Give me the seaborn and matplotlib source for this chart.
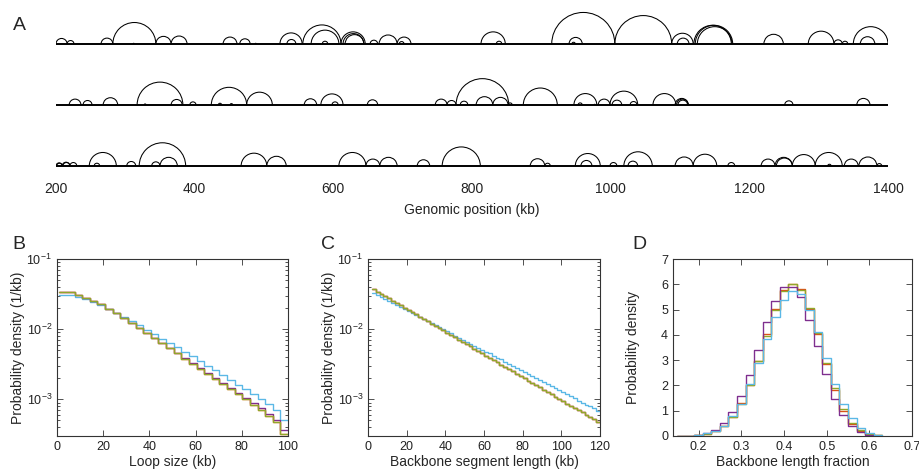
import numpy as np
import pandas as pd
import matplotlib
matplotlib.use('Agg')
import matplotlib.pyplot as plt
from matplotlib.patches import Arc
import seaborn as sns

# === Data === #

# Panel A: loop arcs (start kb, end kb) for three example chromosomes
genome_range = (200, 1400)
track1_loops = [
    (200, 216), (216, 226), (265, 282), (282, 344), (311, 313), (344, 366),
    (366, 389), (441, 461), (465, 480), (487, 489), (523, 555), (533, 546),
    (556, 611), (568, 608), (584, 592), (611, 646), (614, 644), (617, 644),
    (653, 664), (666, 692), (692, 712), (695, 702), (813, 848), (835, 843),
    (915, 1006), (940, 959), (944, 949), (1006, 1088), (1088, 1119), (1096, 1113),
    (1120, 1174), (1122, 1176), (1125, 1175), (1221, 1249), (1285, 1322),
    (1322, 1334), (1334, 1342), (1350, 1400), (1360, 1381),
]
track2_loops = [
    (219, 236), (239, 252), (268, 289), (317, 383), (327, 330), (366, 382),
    (393, 402), (424, 475), (434, 439), (451, 455), (475, 512), (558, 576),
    (582, 614), (598, 607), (649, 664), (747, 764), (764, 777), (777, 853),
    (783, 794), (806, 830), (830, 852), (852, 858), (874, 923), (947, 980),
    (953, 959), (976, 978), (982, 999), (999, 1039), (1002, 1016), (1028, 1038),
    (1061, 1094), (1093, 1112), (1095, 1112), (1097, 1111), (1251, 1263),
    (1355, 1374),
]
track3_loops = [
    (200, 209), (201, 209), (209, 220), (210, 220), (220, 230), (248, 287),
    (255, 263), (302, 315), (320, 387), (338, 350), (350, 375), (467, 504),
    (504, 532), (608, 647), (647, 667), (667, 692), (721, 739), (757, 812),
    (884, 905), (905, 913), (949, 985), (957, 973), (999, 1009), (1019, 1060),
    (1025, 1039), (1093, 1119), (1119, 1153), (1169, 1179), (1217, 1237),
    (1237, 1262), (1239, 1262), (1262, 1295), (1295, 1334), (1313, 1318),
    (1337, 1357), (1358, 1384), (1384, 1391),
]

# Panel B: loop size histograms (1/kb), 30 bins of 3.3 kb from 1 kb
b_edges = np.arange(1, 100.1, 3.3)
b_main = [0.034, 0.034, 0.031, 0.028, 0.025, 0.0225, 0.0195, 0.0168, 0.0145, 0.0124,
          0.0105, 0.0089, 0.0076, 0.0064, 0.0054, 0.0046, 0.0038, 0.0032, 0.0027, 0.0023,
          0.00195, 0.00165, 0.0014, 0.00118, 0.0010, 0.00084, 0.0007, 0.00058, 0.00047, 0.00032]
b_purple = [0.034, 0.034, 0.031, 0.028, 0.025, 0.0225, 0.0195, 0.0168, 0.0145, 0.0124,
            0.0105, 0.0089, 0.0076, 0.0064, 0.0054, 0.0046, 0.0039, 0.0033, 0.0028, 0.0024,
            0.0020, 0.0017, 0.00145, 0.00123, 0.00105, 0.00089, 0.00075, 0.00062, 0.0005, 0.00037]
b_blue = [0.031, 0.031, 0.029, 0.027, 0.0245, 0.022, 0.0195, 0.017, 0.015, 0.013,
          0.0113, 0.0098, 0.0085, 0.0073, 0.0063, 0.0055, 0.0047, 0.0041, 0.0035, 0.003,
          0.0026, 0.0022, 0.0019, 0.0016, 0.0014, 0.0012, 0.001, 0.00085, 0.0007, 0.0005]

# Panel C: backbone segment length histograms (1/kb), 2 kb bins from 2 kb
c_edges = np.arange(2, 120.1, 2)
c_main = [0.0370, 0.0343, 0.0318, 0.0295, 0.0274, 0.0254, 0.0236, 0.0219, 0.0203, 0.0188,
          0.0175, 0.0162, 0.0150, 0.0139, 0.0129, 0.0120, 0.0111, 0.0103, 0.0096, 0.0089,
          0.0083, 0.0077, 0.0071, 0.0066, 0.0061, 0.0057, 0.0053, 0.0049, 0.0045, 0.0042,
          0.0039, 0.0036, 0.0034, 0.0031, 0.0029, 0.0027, 0.0025, 0.0023, 0.00215, 0.0020,
          0.00185, 0.00172, 0.00159, 0.00148, 0.00137, 0.00127, 0.00118, 0.00109, 0.00101,
          0.00094, 0.00087, 0.00081, 0.00075, 0.00070, 0.00065, 0.00060, 0.00056, 0.00052, 0.00048]
c_blue = [0.0330, 0.0309, 0.0289, 0.0270, 0.0253, 0.0236, 0.0221, 0.0207, 0.0193, 0.0181,
          0.0169, 0.0158, 0.0148, 0.0138, 0.0129, 0.0121, 0.0113, 0.0106, 0.0099, 0.0093,
          0.0087, 0.0081, 0.0076, 0.0071, 0.0066, 0.0062, 0.0058, 0.0054, 0.0051, 0.0048,
          0.0045, 0.0042, 0.0039, 0.0037, 0.0034, 0.0032, 0.0030, 0.0028, 0.0026, 0.00245,
          0.0023, 0.00215, 0.0020, 0.00188, 0.00176, 0.00164, 0.00154, 0.00144, 0.00135,
          0.00126, 0.00118, 0.00110, 0.00103, 0.00096, 0.00090, 0.00084, 0.00079, 0.00074, 0.00069]

# Panel D: backbone length fraction histograms, 0.02 bins from 0.15
d_edges = np.arange(0.15, 0.6301, 0.02)
d_green = [0, 0.01, 0.03, 0.08, 0.18, 0.38, 0.75, 1.25, 2.0, 2.95, 3.95, 5.0,
           5.75, 6.0, 5.78, 5.05, 4.08, 2.9, 1.9, 1.05, 0.5, 0.22, 0.08, 0.02]
d_red = [0, 0.01, 0.03, 0.08, 0.19, 0.4, 0.76, 1.3, 2.02, 2.95, 4.02, 5.02,
         5.78, 6.02, 5.8, 5.02, 4.05, 2.85, 1.8, 1.0, 0.48, 0.2, 0.07, 0.02]
d_purple = [0, 0.01, 0.04, 0.12, 0.25, 0.5, 0.95, 1.58, 2.42, 3.42, 4.5, 5.35,
            5.88, 5.88, 5.48, 4.58, 3.55, 2.45, 1.48, 0.82, 0.4, 0.15, 0.05, 0.01]
d_blue = [0, 0.01, 0.05, 0.1, 0.2, 0.4, 0.78, 1.28, 2.05, 2.9, 3.85, 4.72,
          5.38, 5.72, 5.6, 5.0, 4.12, 3.08, 2.05, 1.28, 0.7, 0.3, 0.12, 0.03]

# Line colours (MATLAB-like palette, dark and light shades)
purple, purple_light = '#7E2F8E', '#CC8FD6'
red, orange_light = '#D95319', '#F2B07A'
yellow, green = '#E8C452', '#8FA82C'
blue, blue_light = '#5BB8E6', '#A9DDF4'

# === Figure === #
sns.set_style('ticks')
plt.rcParams['font.family'] = ['Liberation Sans', 'DejaVu Sans']
plt.rcParams['mathtext.fontset'] = 'custom'
plt.rcParams['mathtext.rm'] = 'Liberation Sans'

W, H = 920, 474
fig = plt.figure(figsize=(W / 100, H / 100), dpi=100)


def px_axes(left, top, right, bottom):
    return fig.add_axes([left / W, 1 - bottom / H, (right - left) / W, (bottom - top) / H])


# Panel A: arc diagrams (x and y both in kb so arcs stay circular)
ax_a = px_axes(56, 0, 888, 172)
kb_per_px = (genome_range[1] - genome_range[0]) / 832
ax_a.set_xlim(*genome_range)
ax_a.set_ylim(0, 172 * kb_per_px)
baselines = [(172 - 44) * kb_per_px, (172 - 105) * kb_per_px, (172 - 166) * kb_per_px]
for base, loops in zip(baselines, [track1_loops, track2_loops, track3_loops]):
    ax_a.plot(genome_range, [base, base], color='black', lw=1.4, solid_capstyle='butt')
    for s, e in loops:
        ax_a.add_patch(Arc(((s + e) / 2, base), e - s, e - s, theta1=0, theta2=180,
                           color='black', lw=0.75))
sns.despine(ax=ax_a, left=True, bottom=True)
ax_a.set_yticks([])
ax_a.set_xticks(range(200, 1401, 200))
ax_a.tick_params(axis='x', length=0, pad=7, labelsize=10, labelcolor='#222222')
ax_a.set_xlabel('Genomic position (kb)', fontsize=10, labelpad=5, color='#222222')


def step_hist(ax, edges, vals, color, lw=0.9):
    df = pd.DataFrame({'x': (edges[:-1] + edges[1:]) / 2, 'w': vals})
    sns.histplot(data=df, x='x', weights='w', bins=list(edges), element='step',
                 fill=False, color=color, linewidth=lw, ax=ax)


def style_box(ax):
    for sp in ax.spines.values():
        sp.set_visible(True)
        sp.set_color('#333333')
        sp.set_linewidth(0.8)
    ax.tick_params(which='both', direction='in', top=True, right=True,
                   labelsize=9, width=0.6, color='#333333', labelcolor='#222222')
    ax.tick_params(which='major', length=4)
    ax.tick_params(which='minor', length=2)


# Panel B
ax_b = px_axes(57, 259, 288, 436)
ax_b.set_yscale('log')
step_hist(ax_b, b_edges, b_purple, purple_light)
step_hist(ax_b, b_edges, b_main, orange_light)
step_hist(ax_b, b_edges, b_main, yellow)
step_hist(ax_b, b_edges, b_blue, blue_light)
step_hist(ax_b, b_edges, b_blue, blue)
step_hist(ax_b, b_edges, b_purple, purple)
step_hist(ax_b, b_edges, b_main, red)
step_hist(ax_b, b_edges, b_main, green)
ax_b.set_xlim(0, 100)
ax_b.set_ylim(3e-4, 0.1)
ax_b.set_xticks(range(0, 101, 20))
style_box(ax_b)
ax_b.set_xlabel('Loop size (kb)', fontsize=10)
ax_b.set_ylabel('Probability density (1/kb)', fontsize=10)

# Panel C
ax_c = px_axes(368, 259, 600, 436)
ax_c.set_yscale('log')
step_hist(ax_c, c_edges, c_main, purple_light)
step_hist(ax_c, c_edges, c_main, orange_light)
step_hist(ax_c, c_edges, c_blue, blue_light)
step_hist(ax_c, c_edges, c_blue, blue)
step_hist(ax_c, c_edges, c_main, purple)
step_hist(ax_c, c_edges, c_main, red)
step_hist(ax_c, c_edges, c_main, yellow)
step_hist(ax_c, c_edges, c_main, green)
ax_c.set_xlim(0, 120)
ax_c.set_ylim(3e-4, 0.1)
ax_c.set_xticks(range(0, 121, 20))
style_box(ax_c)
ax_c.set_xlabel('Backbone segment length (kb)', fontsize=10)
ax_c.set_ylabel('Probability density (1/kb)', fontsize=10)

# Panel D
ax_d = px_axes(673, 259, 912, 436)
step_hist(ax_d, d_edges, d_purple, purple_light)
step_hist(ax_d, d_edges, d_red, orange_light)
step_hist(ax_d, d_edges, d_green, yellow)
step_hist(ax_d, d_edges, d_blue, blue_light)
step_hist(ax_d, d_edges, d_red, red)
step_hist(ax_d, d_edges, d_green, green)
step_hist(ax_d, d_edges, d_purple, purple)
step_hist(ax_d, d_edges, d_blue, blue)
ax_d.set_xlim(0.14, 0.7)
ax_d.set_ylim(0, 7)
ax_d.set_xticks([0.2, 0.3, 0.4, 0.5, 0.6, 0.7])
ax_d.set_yticks(range(0, 8))
style_box(ax_d)
ax_d.set_xlabel('Backbone length fraction', fontsize=10)
ax_d.set_ylabel('Probability density', fontsize=10)

for ax in (ax_b, ax_c, ax_d):
    ax.xaxis.set_label_coords(0.5, -0.11)
    ax.yaxis.set_label_coords(-0.14, 0.5)

# Panel letters
for letter, x, y in [('A', 13, 30), ('B', 12, 249), ('C', 321, 249), ('D', 632, 249)]:
    fig.text(x / W, 1 - y / H, letter, fontsize=14, ha='left', va='baseline')

fig.savefig('out.png', dpi=100)
